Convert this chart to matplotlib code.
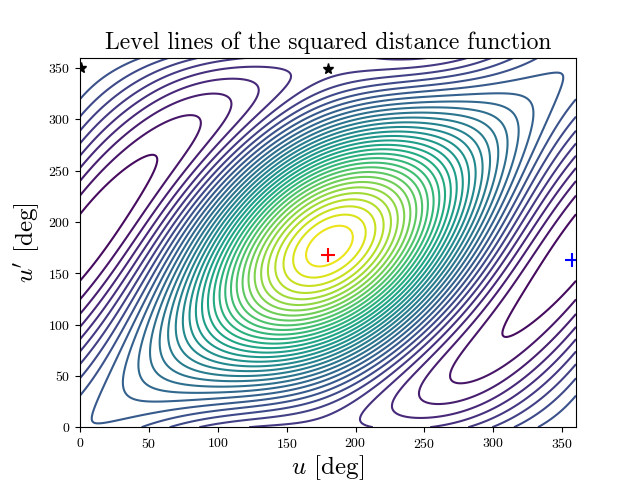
import numpy as np
import matplotlib
matplotlib.use("Agg")
import matplotlib.pyplot as plt

plt.rcParams['font.family'] = 'serif'
plt.rcParams['font.serif'] = ['cmr10']
plt.rcParams['mathtext.fontset'] = 'cm'
plt.rcParams['axes.formatter.use_mathtext'] = True

# orbit parameters (model of the two orbits)
a1, e1 = 1.5, 0.45
a2, e2 = 1.0, 0.1
omega2_deg = 185.0
incl_deg = 30.0
n_levels = 40

# marked points
min_u = [1, 180]
min_up = [350, 349]
max_u = [180]
max_up = [168]
saddle_u = [357]
saddle_up = [163]

u = np.radians(np.linspace(0, 360, 400))
up = np.radians(np.linspace(0, 360, 400))
U, UP = np.meshgrid(u, up)
x1 = a1 * (np.cos(U) - e1); y1 = a1 * np.sqrt(1 - e1**2) * np.sin(U)
xp = a2 * (np.cos(UP) - e2); yp = a2 * np.sqrt(1 - e2**2) * np.sin(UP)
w = np.radians(omega2_deg); inc = np.radians(incl_deg)
x2 = xp * np.cos(w) - yp * np.sin(w) * np.cos(inc)
y2 = xp * np.sin(w) + yp * np.cos(w) * np.cos(inc)
z2 = yp * np.sin(inc)
D2 = (x1 - x2)**2 + (y1 - y2)**2 + z2**2

fig, ax = plt.subplots(figsize=(6.4, 4.8), dpi=100)
fig.subplots_adjust(bottom=0.11)
ax.contour(np.degrees(U), np.degrees(UP), D2, levels=n_levels, cmap='viridis', linewidths=1.5)
ax.plot(min_u, min_up, '*', color='black', ms=8)
ax.plot(max_u, max_up, '+', color='red', ms=10, mew=1.5)
ax.plot(saddle_u, saddle_up, '+', color='blue', ms=10, mew=1.5)
ax.set_xlim(0, 360); ax.set_ylim(0, 360)
ax.set_title('Level lines of the squared distance function', fontsize=17)
ax.set_xlabel(r'$u$ [deg]', fontsize=18, labelpad=2)
ax.set_ylabel(r"$u'$ [deg]", fontsize=18)
fig.savefig('out.png')
